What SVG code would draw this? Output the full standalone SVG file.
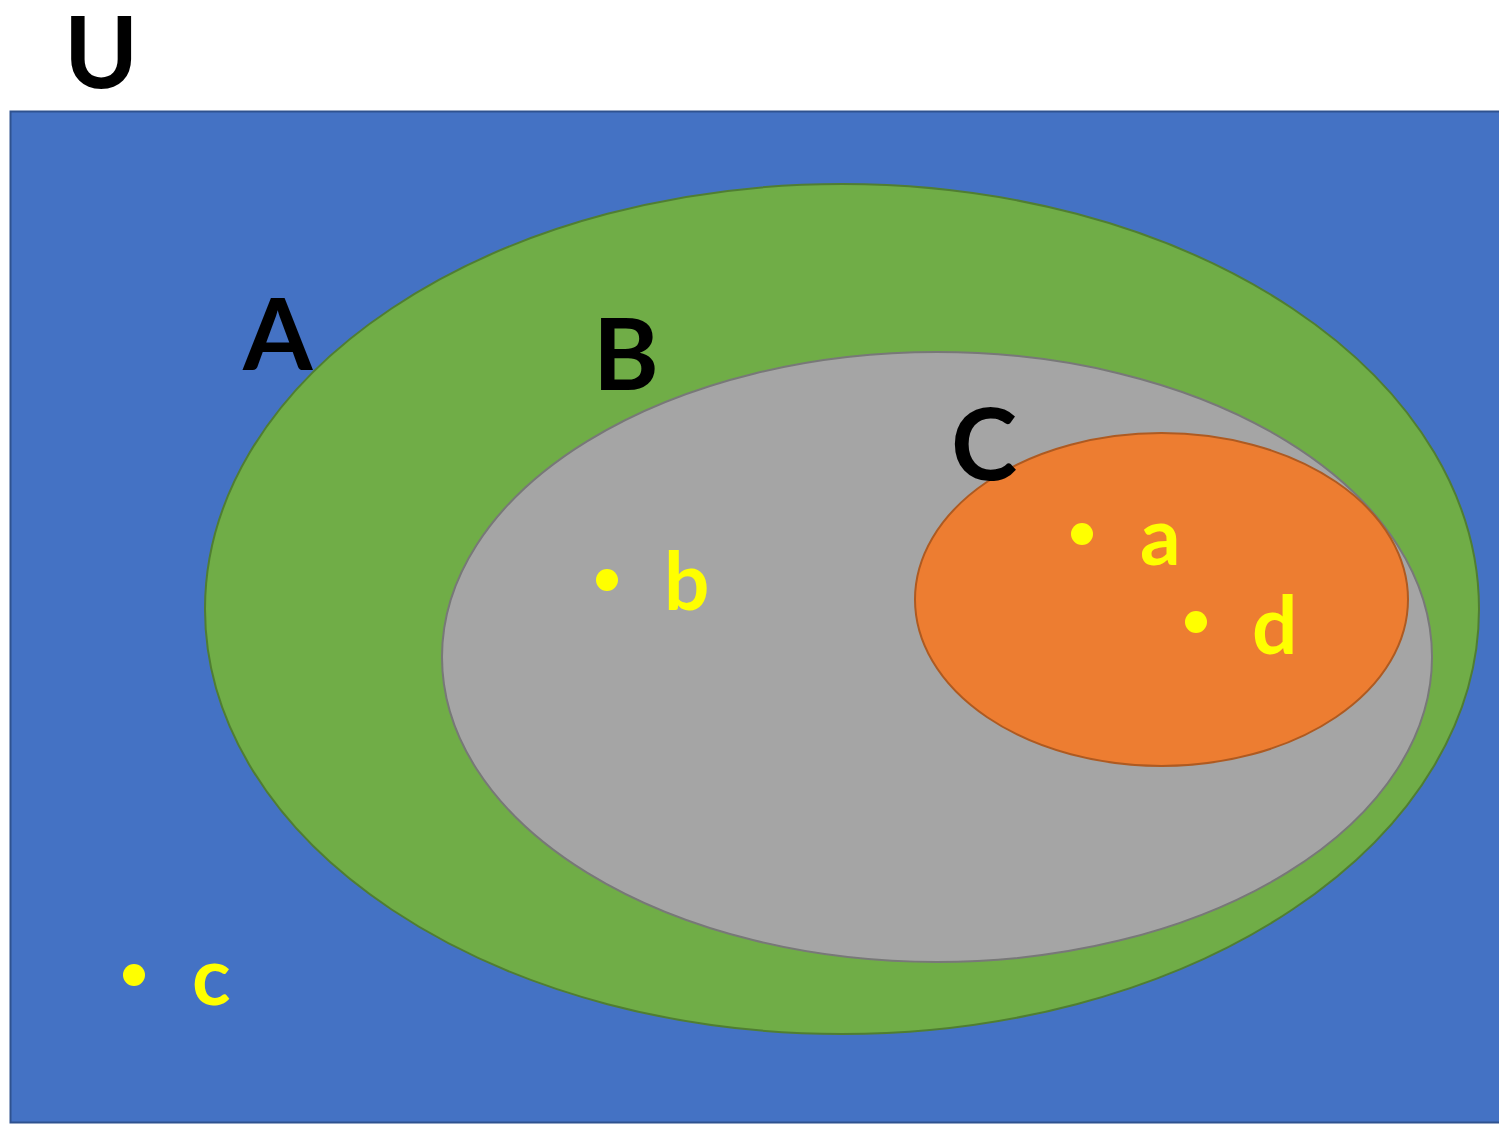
<svg xmlns="http://www.w3.org/2000/svg" width="1499" height="1124" viewBox="0 0 1499 1124">
  <style>
    .set-label { font-family: Lato, "Open Sans", "Liberation Sans", sans-serif; font-weight: 700; font-size: 100px; fill: #000; }
    .elem-label { font-family: Lato, "Open Sans", "Liberation Sans", sans-serif; font-weight: 700; font-size: 80px; fill: #FFFF00; }
    .dot { fill: #FFFF00; }
  </style>
  <rect width="1499" height="1124" fill="#FFFFFF"/>
  <!-- universe U -->
  <g id="U">
    <rect x="10.5" y="111.5" width="1500" height="1011" fill="#4472C4" stroke="#2F528F" stroke-width="2"/>
    <text class="set-label" x="64" y="88">U</text>
  </g>
  <!-- set A -->
  <g id="A">
    <ellipse cx="842" cy="609" rx="637" ry="425" fill="#70AD47" stroke="#507E32" stroke-width="2"/>
    <text class="set-label" x="243" y="370">A</text>
  </g>
  <!-- set B -->
  <g id="B">
    <ellipse cx="937" cy="657" rx="495" ry="305" fill="#A5A5A5" stroke="#787878" stroke-width="2"/>
    <text class="set-label" x="593" y="390">B</text>
  </g>
  <!-- set C -->
  <g id="C">
    <ellipse cx="1161.5" cy="599.5" rx="246.5" ry="166.5" fill="#ED7D31" stroke="#AE5A21" stroke-width="2"/>
    <text class="set-label" x="951" y="480">C</text>
  </g>
  <!-- elements -->
  <g id="elem-a">
    <circle class="dot" cx="1082" cy="534" r="11"/>
    <text class="elem-label" x="1140" y="565">a</text>
  </g>
  <g id="elem-b">
    <circle class="dot" cx="607" cy="580" r="11"/>
    <text class="elem-label" x="664" y="610">b</text>
  </g>
  <g id="elem-c">
    <circle class="dot" cx="134" cy="975" r="11"/>
    <text class="elem-label" x="192" y="1005">c</text>
  </g>
  <g id="elem-d">
    <circle class="dot" cx="1196" cy="622" r="11"/>
    <text class="elem-label" x="1252" y="654">d</text>
  </g>
  <g id="connectors"/>
</svg>
